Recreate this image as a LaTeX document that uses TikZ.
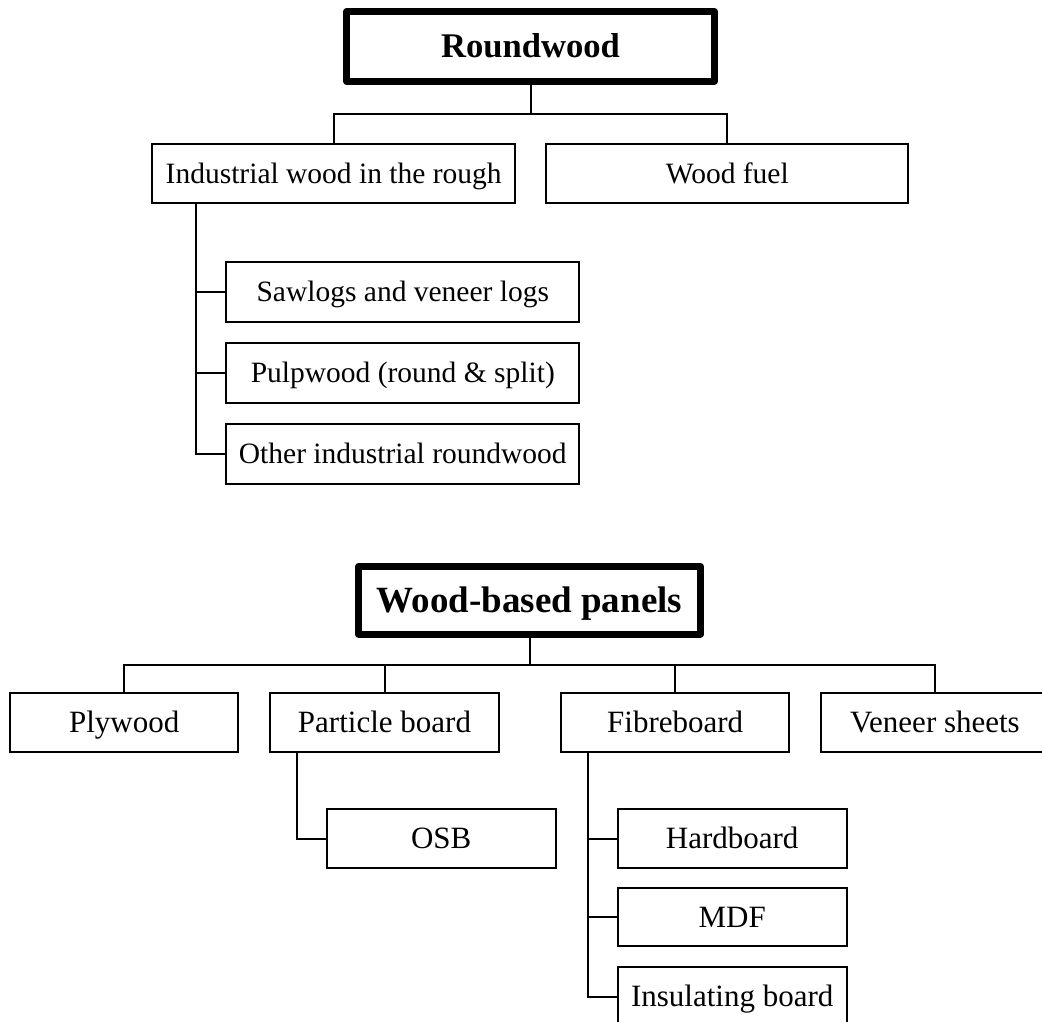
\documentclass[tikz,border=0pt]{standalone}
\usepackage{fontspec}
\setmainfont{Liberation Serif}
\begin{document}
\begin{tikzpicture}[x=0.5pt,y=-0.5pt,
  box/.style={draw,line width=1pt,fill=white,inner sep=0pt,text depth=0pt,align=center},
  topbox/.style={box,line width=3.5pt,line join=round},
  conn/.style={line width=1pt},
  fa/.style={font=\fontsize{14.75}{16}\selectfont,text height=9.76pt},
  fb/.style={font=\fontsize{15.5}{17}\selectfont,text height=10.26pt},
  fab/.style={font=\fontsize{17.3}{19}\selectfont\bfseries,text height=11.45pt},
  fbb/.style={font=\fontsize{18.5}{20}\selectfont\bfseries,text height=12.25pt}]
\useasboundingbox (0,0) rectangle (1042,1021);
\begin{scope}
\clip (0,0) rectangle (1042,1021);
% ---------- Roundwood ----------
\node[topbox,fab,minimum width=184pt,minimum height=34.65pt] (rw) at (530.5,46.4) {Roundwood};
\node[box,fa,minimum width=181.5pt,minimum height=29.5pt] (ind) at (333.7,173.3) {Industrial wood in the rough};
\node[box,fa,minimum width=181pt,minimum height=29.5pt] (fuel) at (727.3,173.3) {Wood fuel};
\node[box,fa,minimum width=176.5pt,minimum height=29.8pt] (saw) at (402.8,292) {Sawlogs and veneer logs};
\node[box,fa,minimum width=176.5pt,minimum height=29.8pt] (pulp) at (402.8,373) {Pulpwood (round \& split)};
\node[box,fa,minimum width=176.5pt,minimum height=29.8pt] (oth) at (402.8,453.8) {Other industrial roundwood};
\coordinate (j1) at (530.5,114);
\coordinate (t1) at (196,0);
\draw[conn] (rw.south) -- (j1);
\draw[conn] (ind.north) -- (ind.north |- j1) -- (fuel.north |- j1) -- (fuel.north);
\draw[conn] (t1 |- ind.south) |- (oth.west);
\draw[conn] (t1 |- saw.west) -- (saw.west);
\draw[conn] (t1 |- pulp.west) -- (pulp.west);
% ---------- Wood-based panels ----------
\node[topbox,fbb,minimum width=170.8pt,minimum height=33.85pt] (wbp) at (529.5,600.2) {Wood-based panels};
\node[box,fb,minimum width=114pt,minimum height=29.8pt] (ply) at (124.2,722.5) {Plywood};
\node[box,fb,minimum width=114.5pt,minimum height=29.8pt] (part) at (384.5,722.5) {Particle board};
\node[box,fb,minimum width=114pt,minimum height=29.8pt] (fibre) at (675.2,722.5) {Fibreboard};
\node[box,fb,minimum width=114pt,minimum height=29.8pt] (ven) at (935,722.5) {Veneer sheets};
\node[box,fb,minimum width=114.5pt,minimum height=29.2pt] (osb) at (441.2,838.5) {OSB};
\node[box,fb,minimum width=114.5pt,minimum height=29.2pt] (hard) at (732.2,838.5) {Hardboard};
\node[box,fb,minimum width=114.5pt,minimum height=29.2pt] (mdf) at (732.2,917.2) {MDF};
\node[box,fb,minimum width=114.5pt,minimum height=29.6pt] (ins) at (732.2,996.7) {Insulating board};
\coordinate (j2) at (529.5,665);
\coordinate (t2) at (296.7,0);
\coordinate (t3) at (587.7,0);
\draw[conn] (wbp.south) -- (j2);
\draw[conn] (ply.north) -- (ply.north |- j2) -- (ven.north |- j2) -- (ven.north);
\draw[conn] (part.north) -- (part.north |- j2);
\draw[conn] (fibre.north) -- (fibre.north |- j2);
\draw[conn] (t2 |- part.south) |- (osb.west);
\draw[conn] (t3 |- fibre.south) |- (ins.west);
\draw[conn] (t3 |- hard.west) -- (hard.west);
\draw[conn] (t3 |- mdf.west) -- (mdf.west);
\end{scope}
\end{tikzpicture}
\end{document}
